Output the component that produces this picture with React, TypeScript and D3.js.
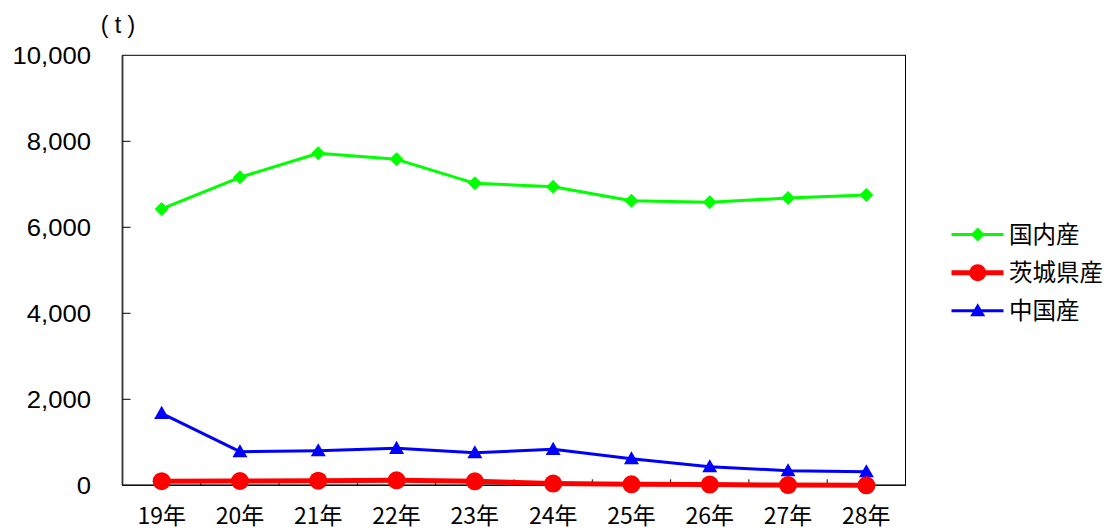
import React from "react";
import * as d3 from "d3";

const categories = ["19年", "20年", "21年", "22年", "23年", "24年", "25年", "26年", "27年", "28年"];
const domestic = [6426, 7163, 7721, 7581, 7023, 6944, 6619, 6581, 6681, 6751];
const ibaraki = [95, 100, 107, 116, 93, 40, 23, 16, 5, 0];
const china = [1674, 781, 805, 860, 758, 837, 619, 433, 340, 316];
const yTicks = [0, 2000, 4000, 6000, 8000, 10000];
const seriesNames = ["国内産", "茨城県産", "中国産"];

const W = 1104, H = 531;
const L = 122.5, R = 905.5, T = 55.3, B = 485.3;

export default function App() {
  const x = d3.scaleBand<string>().domain(categories).range([L, R]);
  const y = d3.scaleLinear().domain([0, 10000]).range([B, T]);
  const cx = (c: string) => (x(c) as number) + x.bandwidth() / 2;
  const line = d3.line<number>().x((_, i) => cx(categories[i])).y((d) => y(d));
  const fmt = d3.format(",");
  const jp = "'Noto Sans CJK JP', sans-serif";
  const sans = "'Liberation Sans', Arial, sans-serif";

  const diamond = (px: number, py: number, s = 7) =>
    `M${px},${py - s}L${px + s},${py}L${px},${py + s}L${px - s},${py}Z`;
  const tri = (px: number, py: number, s = 7.5) =>
    `M${px},${py - s}L${px + s},${py + s * 0.75}L${px - s},${py + s * 0.75}Z`;

  const legend = [
    { name: seriesNames[0], color: "#00FF00", w: 3, y: 234.5, m: "d" },
    { name: seriesNames[1], color: "#FF0000", w: 5, y: 272.7, m: "c" },
    { name: seriesNames[2], color: "#0000FF", w: 3, y: 310.7, m: "t" },
  ];

  return (
    <svg width={W} height={H} style={{ position: "absolute", left: 0, top: 0, background: "#fff" }}>
      <rect x={0} y={0} width={W} height={H} fill="#fff" />
      <rect x={L} y={T} width={R - L} height={B - T} fill="none" stroke="#000" strokeWidth={1} />
      <line x1={L} y1={T} x2={L} y2={B} stroke="#333" strokeWidth={1.8} />
      <line x1={L} y1={B} x2={R} y2={B} stroke="#111" strokeWidth={1.5} />
      {yTicks.map((t) => (
        <g key={t}>
          {t > 0 && t < 10000 && <line x1={L} x2={L + 8} y1={y(t)} y2={y(t)} stroke="#000" strokeWidth={1} />}
          <text x={91} y={y(t) + 8.5} textAnchor="end" style={{ fontFamily: sans, fontSize: "24px" }} fill="#000"
            transform={`translate(91,0) scale(1.07,1) translate(-91,0)`}>
            {fmt(t)}
          </text>
        </g>
      ))}
      <text x={118} y={33} textAnchor="middle" style={{ fontFamily: sans, fontSize: "23px" }} fill="#000">( t )</text>
      {categories.slice(1).map((c) => (
        <line key={c} x1={x(c) as number} x2={x(c) as number} y1={B} y2={B - 6} stroke="#000" strokeWidth={1} />
      ))}
      {categories.map((c) => (
        <text key={c} x={cx(c)} y={524} textAnchor="middle" style={{ fontFamily: jp, fontSize: "23px" }} fill="#000">
          {c}
        </text>
      ))}
      <path d={line(domestic) as string} fill="none" stroke="#00FF00" strokeWidth={3} strokeLinejoin="round" />
      {domestic.map((v, i) => (
        <path key={i} d={diamond(cx(categories[i]), y(v))} fill="#00FF00" />
      ))}
      <path d={line(china) as string} fill="none" stroke="#0000FF" strokeWidth={3} strokeLinejoin="round" />
      {china.map((v, i) => (
        <path key={i} d={tri(cx(categories[i]), y(v))} fill="#0000FF" />
      ))}
      <path d={line(ibaraki) as string} fill="none" stroke="#FF0000" strokeWidth={5} strokeLinejoin="round" />
      {ibaraki.map((v, i) => (
        <circle key={i} cx={cx(categories[i])} cy={y(v)} r={9} fill="#FF0000" />
      ))}
      {legend.map((l) => (
        <g key={l.name}>
          <line x1={951.5} x2={1003.5} y1={l.y} y2={l.y} stroke={l.color} strokeWidth={l.w} />
          {l.m === "d" && <path d={diamond(977.7, l.y)} fill={l.color} />}
          {l.m === "c" && <circle cx={977.7} cy={l.y} r={8.5} fill={l.color} />}
          {l.m === "t" && <path d={tri(977.7, l.y)} fill={l.color} />}
          <text x={1009} y={l.y + 8} style={{ fontFamily: jp, fontSize: "23.5px" }} fill="#000">
            {l.name}
          </text>
        </g>
      ))}
    </svg>
  );
}
